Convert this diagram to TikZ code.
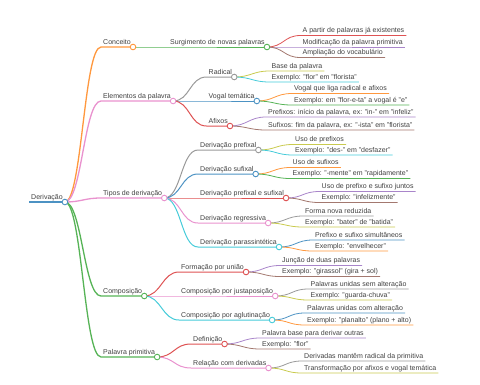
\documentclass[tikz,border=0pt]{standalone}
\usepackage{fontspec}
\setmainfont{Liberation Sans}
\usepackage{xcolor}
\usepackage{tikz}

\definecolor{txtgray}{HTML}{404040}
\definecolor{mmblue}{HTML}{4C92C3}
\definecolor{mmorange}{HTML}{FF983E}
\definecolor{mmgreen}{HTML}{56B356}
\definecolor{mmred}{HTML}{DE5253}
\definecolor{mmpurple}{HTML}{A985CA}
\definecolor{mmbrown}{HTML}{A3786F}
\definecolor{mmpink}{HTML}{E992CE}
\definecolor{mmgray}{HTML}{999999}
\definecolor{mmolive}{HTML}{C9CA4E}
\definecolor{mmcyan}{HTML}{45CBD9}

\begin{document}
\begin{tikzpicture}[x=1pt, y=-1pt,
    topic/.style={anchor=south west, inner xsep=2pt, inner ysep=1pt,
      text height=5.2pt, text depth=1.5pt, text=txtgray,
      font=\fontsize{7}{8.4}\selectfont},
    knob/.style={draw=#1, fill=white, line width=0.9pt},
    lvl1/.style={line width=1.3pt},
    lvl2/.style={line width=1pt},
    lvl3/.style={line width=0.8pt}]
    \useasboundingbox (0,0) rectangle (480,384);

    % Root
    \node[topic] (deriv) at (29,202) {Derivação};

    % First level
    \node[topic] (conceito) at (101,47) {Conceito};
    \node[topic] (elementos) at (101,101) {Elementos da palavra};
    \node[topic] (tipos) at (101,198) {Tipos de derivação};
    \node[topic] (composicao) at (101,296) {Composição};
    \node[topic] (primitiva) at (101,357) {Palavra primitiva};

    % Second level
    \node[topic] (surgimento) at (168,47) {Surgimento de novas palavras};
    \node[topic] (radical) at (206.5,77) {Radical};
    \node[topic] (vogal) at (206.5,101) {Vogal temática};
    \node[topic] (afixos) at (206.5,126) {Afixos};
    \node[topic] (prefixal) at (198,150) {Derivação prefixal};
    \node[topic] (sufixal) at (198,174) {Derivação sufixal};
    \node[topic] (prefsuf) at (198,198) {Derivação prefixal e sufixal};
    \node[topic] (regressiva) at (198,223) {Derivação regressiva};
    \node[topic] (parassint) at (198,247) {Derivação parassintética};
    \node[topic] (uniao) at (179,272) {Formação por união};
    \node[topic] (justap) at (179,296) {Composição por justaposição};
    \node[topic] (aglut) at (179,320) {Composição por aglutinação};
    \node[topic] (definicao) at (191,344) {Definição};
    \node[topic] (relacao) at (191,368) {Relação com derivadas};

    % Third level
    \node[topic] (surgA) at (300.5,35.5) {A partir de palavras já existentes};
    \node[topic] (surgB) at (300.5,47) {Modificação da palavra primitiva};
    \node[topic] (surgC) at (300.5,57.5) {Ampliação do vocabulário};
    \node[topic] (radA) at (269.5,71) {Base da palavra};
    \node[topic] (radB) at (269.5,82) {Exemplo: "flor" em "florista"};
    \node[topic] (vogA) at (292,93.5) {Vogal que liga radical e afixos};
    \node[topic] (vogB) at (292,105) {Exemplo: em "flor-e-ta" a vogal é "e"};
    \node[topic] (afiA) at (266,117) {Prefixos: início da palavra, ex: "in-" em "infeliz"};
    \node[topic] (afiB) at (266,130) {Sufixos: fim da palavra, ex: "-ista" em "florista"};
    \node[topic] (prefA) at (293,144.5) {Uso de prefixos};
    \node[topic] (prefB) at (293,155) {Exemplo: "des-" em "desfazer"};
    \node[topic] (sufA) at (290.5,167.5) {Uso de sufixos};
    \node[topic] (sufB) at (290.5,178.5) {Exemplo: "-mente" em "rapidamente"};
    \node[topic] (psA) at (319.5,191.5) {Uso de prefixo e sufixo juntos};
    \node[topic] (psB) at (319.5,202.5) {Exemplo: "infelizmente"};
    \node[topic] (regA) at (303,216) {Forma nova reduzida};
    \node[topic] (regB) at (303,227) {Exemplo: "bater" de "batida"};
    \node[topic] (parA) at (313,240) {Prefixo e sufixo simultâneos};
    \node[topic] (parB) at (313,251) {Exemplo: "envelhecer"};
    \node[topic] (uniA) at (280,265.5) {Junção de duas palavras};
    \node[topic] (uniB) at (280,276.5) {Exemplo: "girassol" (gira + sol)};
    \node[topic] (jusA) at (308.5,289) {Palavras unidas sem alteração};
    \node[topic] (jusB) at (308.5,300) {Exemplo: "guarda-chuva"};
    \node[topic] (aglA) at (305,313) {Palavras unidas com alteração};
    \node[topic] (aglB) at (305,325) {Exemplo: "planalto" (plano + alto)};
    \node[topic] (defA) at (260,338) {Palavra base para derivar outras};
    \node[topic] (defB) at (260,349) {Exemplo: "flor"};
    \node[topic] (relA) at (302,361) {Derivadas mantêm radical da primitiva};
    \node[topic] (relB) at (302,373) {Transformação por afixos e vogal temática};

    % Root underline
    \draw[mmblue, line width=2.5pt] (deriv.south west) -- (deriv.south east);

    % Root branches
    \draw[mmorange, lvl1] (deriv.south east) .. controls +(17,0) and +(-17,0) .. (conceito.south west) -- (conceito.south east);
    \draw[mmpink, lvl1] (deriv.south east) .. controls +(17,0) and +(-17,0) .. (elementos.south west) -- (elementos.south east);
    \draw[mmpink, lvl1] (deriv.south east) .. controls +(17,0) and +(-17,0) .. (tipos.south west) -- (tipos.south east);
    \draw[mmgreen, lvl1] (deriv.south east) .. controls +(17,0) and +(-17,0) .. (composicao.south west) -- (composicao.south east);
    \draw[mmgreen, lvl1] (deriv.south east) .. controls +(17,0) and +(-17,0) .. (primitiva.south west) -- (primitiva.south east);

    % Conceito
    \draw[mmgreen, lvl2] (conceito.south east) -- (surgimento.south west) -- (surgimento.south east);
    \draw[mmred, lvl3] (surgimento.south east) .. controls +(17,0) and +(-17,0) .. (surgA.south west) -- (surgA.south east);
    \draw[mmpurple, lvl3] (surgimento.south east) -- (surgB.south west) -- (surgB.south east);
    \draw[mmbrown, lvl3] (surgimento.south east) .. controls +(17,0) and +(-17,0) .. (surgC.south west) -- (surgC.south east);

    % Elementos da palavra
    \draw[mmgray, lvl2] (elementos.south east) .. controls +(17,0) and +(-17,0) .. (radical.south west) -- (radical.south east);
    \draw[mmblue, lvl2] (elementos.south east) -- (vogal.south west) -- (vogal.south east);
    \draw[mmred, lvl2] (elementos.south east) .. controls +(17,0) and +(-17,0) .. (afixos.south west) -- (afixos.south east);
    \draw[mmolive, lvl3] (radical.south east) .. controls +(17,0) and +(-17,0) .. (radA.south west) -- (radA.south east);
    \draw[mmcyan, lvl3] (radical.south east) .. controls +(17,0) and +(-17,0) .. (radB.south west) -- (radB.south east);
    \draw[mmorange, lvl3] (vogal.south east) .. controls +(17,0) and +(-17,0) .. (vogA.south west) -- (vogA.south east);
    \draw[mmgreen, lvl3] (vogal.south east) .. controls +(17,0) and +(-17,0) .. (vogB.south west) -- (vogB.south east);
    \draw[mmpurple, lvl3] (afixos.south east) .. controls +(17,0) and +(-17,0) .. (afiA.south west) -- (afiA.south east);
    \draw[mmbrown, lvl3] (afixos.south east) .. controls +(17,0) and +(-17,0) .. (afiB.south west) -- (afiB.south east);

    % Tipos de derivacao
    \draw[mmgray, lvl2] (tipos.south east) .. controls +(17,0) and +(-17,0) .. (prefixal.south west) -- (prefixal.south east);
    \draw[mmblue, lvl2] (tipos.south east) .. controls +(17,0) and +(-17,0) .. (sufixal.south west) -- (sufixal.south east);
    \draw[mmred, lvl2] (tipos.south east) -- (prefsuf.south west) -- (prefsuf.south east);
    \draw[mmpink, lvl2] (tipos.south east) .. controls +(17,0) and +(-17,0) .. (regressiva.south west) -- (regressiva.south east);
    \draw[mmcyan, lvl2] (tipos.south east) .. controls +(17,0) and +(-17,0) .. (parassint.south west) -- (parassint.south east);
    \draw[mmolive, lvl3] (prefixal.south east) .. controls +(17,0) and +(-17,0) .. (prefA.south west) -- (prefA.south east);
    \draw[mmcyan, lvl3] (prefixal.south east) .. controls +(17,0) and +(-17,0) .. (prefB.south west) -- (prefB.south east);
    \draw[mmorange, lvl3] (sufixal.south east) .. controls +(17,0) and +(-17,0) .. (sufA.south west) -- (sufA.south east);
    \draw[mmgreen, lvl3] (sufixal.south east) .. controls +(17,0) and +(-17,0) .. (sufB.south west) -- (sufB.south east);
    \draw[mmpurple, lvl3] (prefsuf.south east) .. controls +(17,0) and +(-17,0) .. (psA.south west) -- (psA.south east);
    \draw[mmbrown, lvl3] (prefsuf.south east) .. controls +(17,0) and +(-17,0) .. (psB.south west) -- (psB.south east);
    \draw[mmgray, lvl3] (regressiva.south east) .. controls +(17,0) and +(-17,0) .. (regA.south west) -- (regA.south east);
    \draw[mmolive, lvl3] (regressiva.south east) .. controls +(17,0) and +(-17,0) .. (regB.south west) -- (regB.south east);
    \draw[mmblue, lvl3] (parassint.south east) .. controls +(17,0) and +(-17,0) .. (parA.south west) -- (parA.south east);
    \draw[mmorange, lvl3] (parassint.south east) .. controls +(17,0) and +(-17,0) .. (parB.south west) -- (parB.south east);

    % Composicao
    \draw[mmred, lvl2] (composicao.south east) .. controls +(17,0) and +(-17,0) .. (uniao.south west) -- (uniao.south east);
    \draw[mmpink, lvl2] (composicao.south east) -- (justap.south west) -- (justap.south east);
    \draw[mmcyan, lvl2] (composicao.south east) .. controls +(17,0) and +(-17,0) .. (aglut.south west) -- (aglut.south east);
    \draw[mmpurple, lvl3] (uniao.south east) .. controls +(17,0) and +(-17,0) .. (uniA.south west) -- (uniA.south east);
    \draw[mmbrown, lvl3] (uniao.south east) .. controls +(17,0) and +(-17,0) .. (uniB.south west) -- (uniB.south east);
    \draw[mmgray, lvl3] (justap.south east) .. controls +(17,0) and +(-17,0) .. (jusA.south west) -- (jusA.south east);
    \draw[mmolive, lvl3] (justap.south east) .. controls +(17,0) and +(-17,0) .. (jusB.south west) -- (jusB.south east);
    \draw[mmblue, lvl3] (aglut.south east) .. controls +(17,0) and +(-17,0) .. (aglA.south west) -- (aglA.south east);
    \draw[mmorange, lvl3] (aglut.south east) .. controls +(17,0) and +(-17,0) .. (aglB.south west) -- (aglB.south east);

    % Palavra primitiva
    \draw[mmred, lvl2] (primitiva.south east) .. controls +(17,0) and +(-17,0) .. (definicao.south west) -- (definicao.south east);
    \draw[mmpink, lvl2] (primitiva.south east) .. controls +(17,0) and +(-17,0) .. (relacao.south west) -- (relacao.south east);
    \draw[mmpurple, lvl3] (definicao.south east) .. controls +(17,0) and +(-17,0) .. (defA.south west) -- (defA.south east);
    \draw[mmbrown, lvl3] (definicao.south east) .. controls +(17,0) and +(-17,0) .. (defB.south west) -- (defB.south east);
    \draw[mmgray, lvl3] (relacao.south east) .. controls +(17,0) and +(-17,0) .. (relA.south west) -- (relA.south east);
    \draw[mmolive, lvl3] (relacao.south east) .. controls +(17,0) and +(-17,0) .. (relB.south west) -- (relB.south east);

    % Knobs on the branching points
    \path[knob=mmblue] (deriv.south east) circle (2.8pt);
    \path[knob=mmorange] (conceito.south east) circle (2.8pt);
    \path[knob=mmpink] (elementos.south east) circle (2.8pt);
    \path[knob=mmpink] (tipos.south east) circle (2.8pt);
    \path[knob=mmgreen] (composicao.south east) circle (2.8pt);
    \path[knob=mmgreen] (primitiva.south east) circle (2.8pt);
    \path[knob=mmgreen] (surgimento.south east) circle (2.8pt);
    \path[knob=mmgray] (radical.south east) circle (2.8pt);
    \path[knob=mmblue] (vogal.south east) circle (2.8pt);
    \path[knob=mmred] (afixos.south east) circle (2.8pt);
    \path[knob=mmgray] (prefixal.south east) circle (2.8pt);
    \path[knob=mmblue] (sufixal.south east) circle (2.8pt);
    \path[knob=mmred] (prefsuf.south east) circle (2.8pt);
    \path[knob=mmpink] (regressiva.south east) circle (2.8pt);
    \path[knob=mmcyan] (parassint.south east) circle (2.8pt);
    \path[knob=mmred] (uniao.south east) circle (2.8pt);
    \path[knob=mmpink] (justap.south east) circle (2.8pt);
    \path[knob=mmcyan] (aglut.south east) circle (2.8pt);
    \path[knob=mmred] (definicao.south east) circle (2.8pt);
    \path[knob=mmpink] (relacao.south east) circle (2.8pt);
\end{tikzpicture}
\end{document}
